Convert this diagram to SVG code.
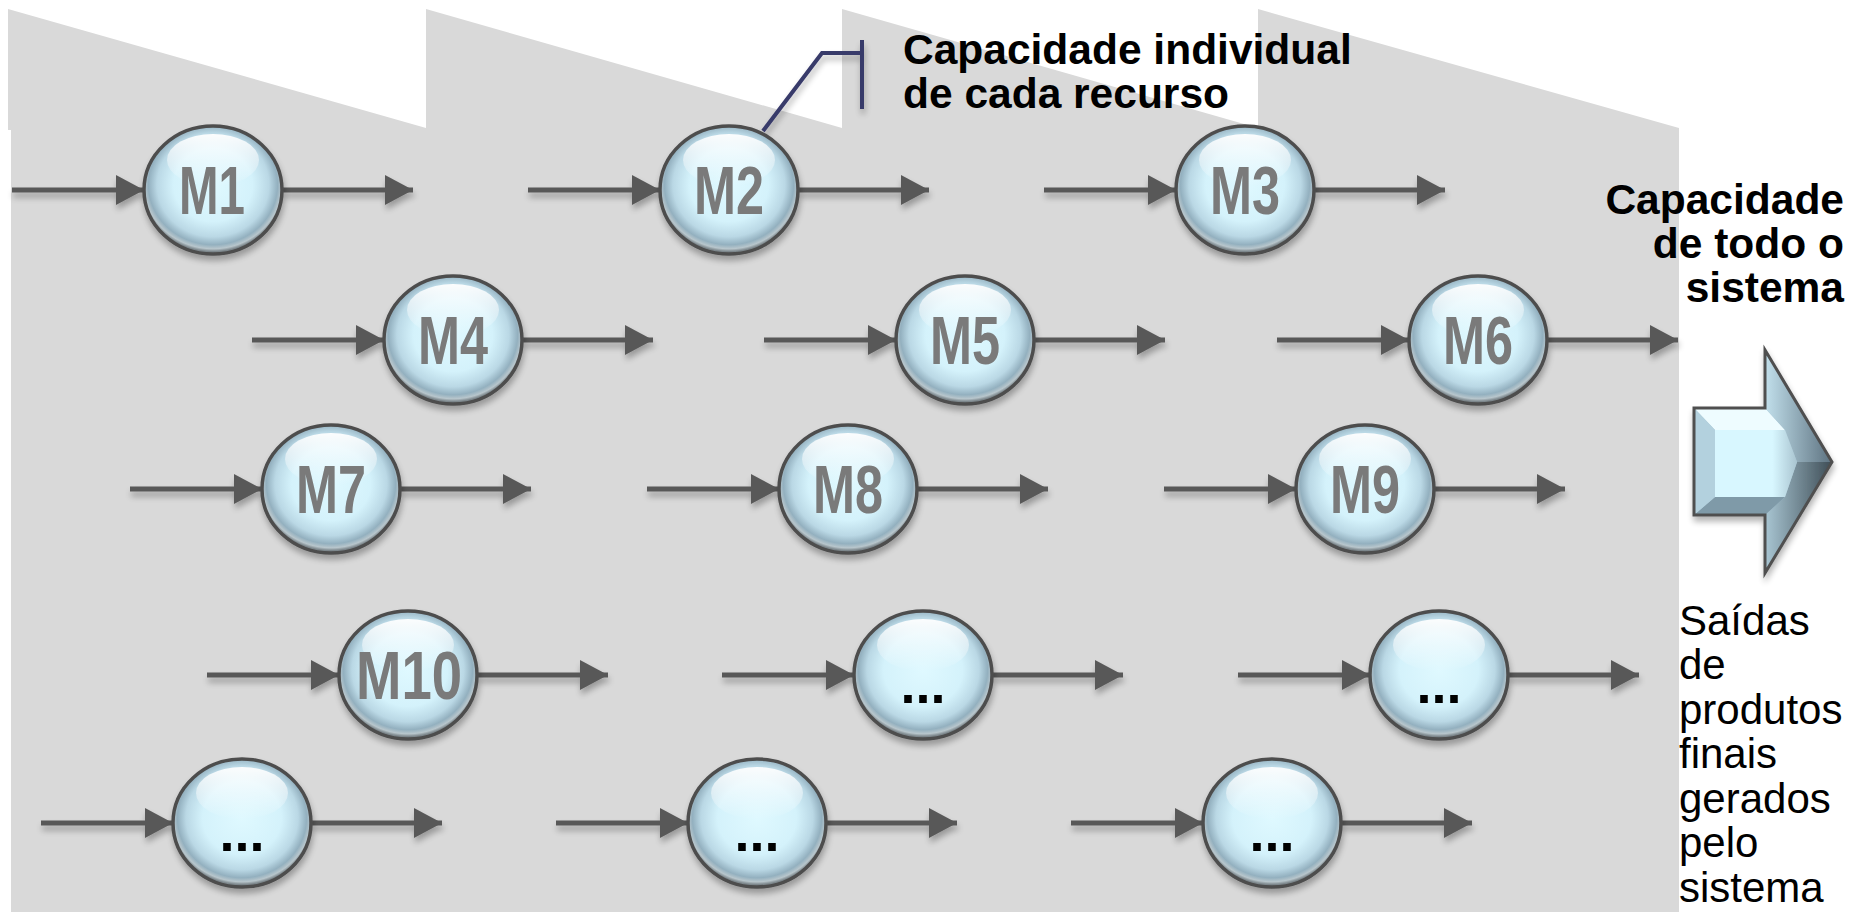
<svg xmlns="http://www.w3.org/2000/svg" width="1849" height="912" viewBox="0 0 1849 912">
<style>
.lbl{font-family:"Liberation Sans",Arial,sans-serif;font-weight:bold;font-size:68px;fill:#7a7a7a;text-anchor:middle}
.dots{font-family:"Liberation Sans",Arial,sans-serif;font-weight:bold;font-size:54px;fill:#000;text-anchor:middle}
.cap{font-family:"Liberation Sans",Arial,sans-serif;font-weight:bold;font-size:42.5px;fill:#000}
.out{font-family:"Liberation Sans",Arial,sans-serif;font-size:42px;fill:#000}
.arr{stroke:#595959;stroke-width:5;fill:none;marker-end:url(#ah)}
.ring{fill:url(#ball);stroke:#4d4d4d;stroke-width:3.5}
.hl{fill:url(#hlg)}
</style>
<defs>
<marker id="ah" markerUnits="userSpaceOnUse" markerWidth="28" markerHeight="30" refX="28" refY="15" orient="auto">
<path d="M0,0 L28,15 L0,30 Z" fill="#595959"/>
</marker>
<radialGradient id="ball" cx="50%" cy="46%" r="52%">
<stop offset="0" stop-color="#dff9ff"/>
<stop offset="0.55" stop-color="#d4f2fb"/>
<stop offset="0.78" stop-color="#bad8e5"/>
<stop offset="0.9" stop-color="#93b0bf"/>
<stop offset="0.96" stop-color="#b8c6cc"/>
<stop offset="1" stop-color="#7d878c"/>
</radialGradient>
<linearGradient id="hlg" x1="0" y1="0" x2="0" y2="1">
<stop offset="0" stop-color="#fff" stop-opacity="0.95"/>
<stop offset="1" stop-color="#fff" stop-opacity="0"/>
</linearGradient>
<linearGradient id="headTop" x1="0" y1="0" x2="1" y2="0">
<stop offset="0" stop-color="#c2e0ec"/>
<stop offset="1" stop-color="#5d7280"/>
</linearGradient>
<linearGradient id="headBot" x1="0" y1="0" x2="1" y2="0">
<stop offset="0" stop-color="#a9c6d3"/>
<stop offset="1" stop-color="#3e4d56"/>
</linearGradient>
<linearGradient id="face" x1="0" y1="0" x2="1" y2="0">
<stop offset="0" stop-color="#d8f7ff"/>
<stop offset="0.7" stop-color="#d8f7ff"/>
<stop offset="1" stop-color="#a9c4d0"/>
</linearGradient>
<filter id="sh" x="-10%" y="-10%" width="120%" height="130%">
<feGaussianBlur in="SourceAlpha" stdDeviation="3"/>
<feOffset dx="1" dy="5"/>
<feComponentTransfer><feFuncA type="linear" slope="0.3"/></feComponentTransfer>
<feMerge><feMergeNode/><feMergeNode in="SourceGraphic"/></feMerge>
</filter>
<g id="ball-shape">
<ellipse cx="0" cy="0" rx="69" ry="64" class="ring"/>
<ellipse cx="0" cy="-30" rx="46" ry="26" class="hl"/>
</g>
</defs>

<polygon id="background" fill="#d9d9d9" points="8,9 426,128 426,9 842,128 842,9 1258,128 1258,9 1679,128 1679,912 11,912 11,130 8,130"/>

<g id="connectors" filter="url(#sh)">
<line class="arr" x1="12" y1="190" x2="144" y2="190"/>
<line class="arr" x1="283" y1="190" x2="413" y2="190"/>
<line class="arr" x1="528" y1="190" x2="660" y2="190"/>
<line class="arr" x1="799" y1="190" x2="929" y2="190"/>
<line class="arr" x1="1044" y1="190" x2="1176" y2="190"/>
<line class="arr" x1="1315" y1="190" x2="1445" y2="190"/>

<line class="arr" x1="252" y1="340" x2="384" y2="340"/>
<line class="arr" x1="523" y1="340" x2="653" y2="340"/>
<line class="arr" x1="764" y1="340" x2="896" y2="340"/>
<line class="arr" x1="1035" y1="340" x2="1165" y2="340"/>
<line class="arr" x1="1277" y1="340" x2="1409" y2="340"/>
<line class="arr" x1="1548" y1="340" x2="1678" y2="340"/>

<line class="arr" x1="130" y1="489" x2="262" y2="489"/>
<line class="arr" x1="401" y1="489" x2="531" y2="489"/>
<line class="arr" x1="647" y1="489" x2="779" y2="489"/>
<line class="arr" x1="918" y1="489" x2="1048" y2="489"/>
<line class="arr" x1="1164" y1="489" x2="1296" y2="489"/>
<line class="arr" x1="1435" y1="489" x2="1565" y2="489"/>

<line class="arr" x1="207" y1="675" x2="339" y2="675"/>
<line class="arr" x1="478" y1="675" x2="608" y2="675"/>
<line class="arr" x1="722" y1="675" x2="854" y2="675"/>
<line class="arr" x1="993" y1="675" x2="1123" y2="675"/>
<line class="arr" x1="1238" y1="675" x2="1370" y2="675"/>
<line class="arr" x1="1509" y1="675" x2="1639" y2="675"/>

<line class="arr" x1="41" y1="823" x2="173" y2="823"/>
<line class="arr" x1="312" y1="823" x2="442" y2="823"/>
<line class="arr" x1="556" y1="823" x2="688" y2="823"/>
<line class="arr" x1="827" y1="823" x2="957" y2="823"/>
<line class="arr" x1="1071" y1="823" x2="1203" y2="823"/>
<line class="arr" x1="1342" y1="823" x2="1472" y2="823"/>

<polyline id="leader" points="763,131 822,53 862,53" fill="none" stroke="#383a6b" stroke-width="4"/>
<line x1="862" y1="40" x2="862" y2="109" stroke="#383a6b" stroke-width="4"/>
</g>

<g id="m1" filter="url(#sh)"><use href="#ball-shape" x="213" y="190"/><text class="lbl" x="212" y="214" textLength="66" lengthAdjust="spacingAndGlyphs">M1</text></g>
<g id="m2" filter="url(#sh)"><use href="#ball-shape" x="729" y="190"/><text class="lbl" x="729" y="214" textLength="70" lengthAdjust="spacingAndGlyphs">M2</text></g>
<g id="m3" filter="url(#sh)"><use href="#ball-shape" x="1245" y="190"/><text class="lbl" x="1245" y="214" textLength="70" lengthAdjust="spacingAndGlyphs">M3</text></g>
<g id="m4" filter="url(#sh)"><use href="#ball-shape" x="453" y="340"/><text class="lbl" x="453" y="364" textLength="70" lengthAdjust="spacingAndGlyphs">M4</text></g>
<g id="m5" filter="url(#sh)"><use href="#ball-shape" x="965" y="340"/><text class="lbl" x="965" y="364" textLength="70" lengthAdjust="spacingAndGlyphs">M5</text></g>
<g id="m6" filter="url(#sh)"><use href="#ball-shape" x="1478" y="340"/><text class="lbl" x="1478" y="364" textLength="70" lengthAdjust="spacingAndGlyphs">M6</text></g>
<g id="m7" filter="url(#sh)"><use href="#ball-shape" x="331" y="489"/><text class="lbl" x="331" y="513" textLength="70" lengthAdjust="spacingAndGlyphs">M7</text></g>
<g id="m8" filter="url(#sh)"><use href="#ball-shape" x="848" y="489"/><text class="lbl" x="848" y="513" textLength="70" lengthAdjust="spacingAndGlyphs">M8</text></g>
<g id="m9" filter="url(#sh)"><use href="#ball-shape" x="1365" y="489"/><text class="lbl" x="1365" y="513" textLength="70" lengthAdjust="spacingAndGlyphs">M9</text></g>
<g id="m10" filter="url(#sh)"><use href="#ball-shape" x="408" y="675"/><text class="lbl" x="409" y="699" textLength="106" lengthAdjust="spacingAndGlyphs">M10</text></g>
<g id="n11" filter="url(#sh)"><use href="#ball-shape" x="923" y="675"/><text class="dots" x="923" y="703">...</text></g>
<g id="n12" filter="url(#sh)"><use href="#ball-shape" x="1439" y="675"/><text class="dots" x="1439" y="703">...</text></g>
<g id="n13" filter="url(#sh)"><use href="#ball-shape" x="242" y="823"/><text class="dots" x="242" y="851">...</text></g>
<g id="n14" filter="url(#sh)"><use href="#ball-shape" x="757" y="823"/><text class="dots" x="757" y="851">...</text></g>
<g id="n15" filter="url(#sh)"><use href="#ball-shape" x="1272" y="823"/><text class="dots" x="1272" y="851">...</text></g>

<g id="label-individual">
<text class="cap" x="903" y="64">Capacidade individual</text>
<text class="cap" x="903" y="108">de cada recurso</text>
</g>

<g id="label-sistema">
<text class="cap" x="1844" y="214" text-anchor="end">Capacidade</text>
<text class="cap" x="1844" y="258" text-anchor="end">de todo o</text>
<text class="cap" x="1844" y="302" text-anchor="end">sistema</text>
</g>

<g id="big-arrow" filter="url(#sh)">
<polygon points="1694,408 1765,408 1765,350 1832,462 1765,573 1765,515 1694,515" fill="#a9c6d3"/>
<polygon points="1694,408 1765,408 1785,430 1715,430" fill="#eefcff"/>
<polygon points="1765,408 1765,350 1832,462 1797,462 1785,430" fill="url(#headTop)"/>
<polygon points="1832,462 1765,573 1765,515 1785,497 1797,462" fill="url(#headBot)"/>
<polygon points="1765,515 1694,515 1715,497 1785,497" fill="#7f9aa8"/>
<polygon points="1694,408 1715,430 1715,497 1694,515" fill="#b3d1de"/>
<polygon points="1715,430 1785,430 1797,462 1785,497 1715,497" fill="url(#face)"/>
<polygon points="1694,408 1765,408 1765,350 1832,462 1765,573 1765,515 1694,515" fill="none" stroke="#4f4f4f" stroke-width="3" stroke-linejoin="miter"/>
</g>

<g id="label-saidas">
<text class="out" x="1679" y="635">Saídas</text>
<text class="out" x="1679" y="679">de</text>
<text class="out" x="1679" y="724">produtos</text>
<text class="out" x="1679" y="768">finais</text>
<text class="out" x="1679" y="813">gerados</text>
<text class="out" x="1679" y="857">pelo</text>
<text class="out" x="1679" y="902">sistema</text>
</g>
</svg>
